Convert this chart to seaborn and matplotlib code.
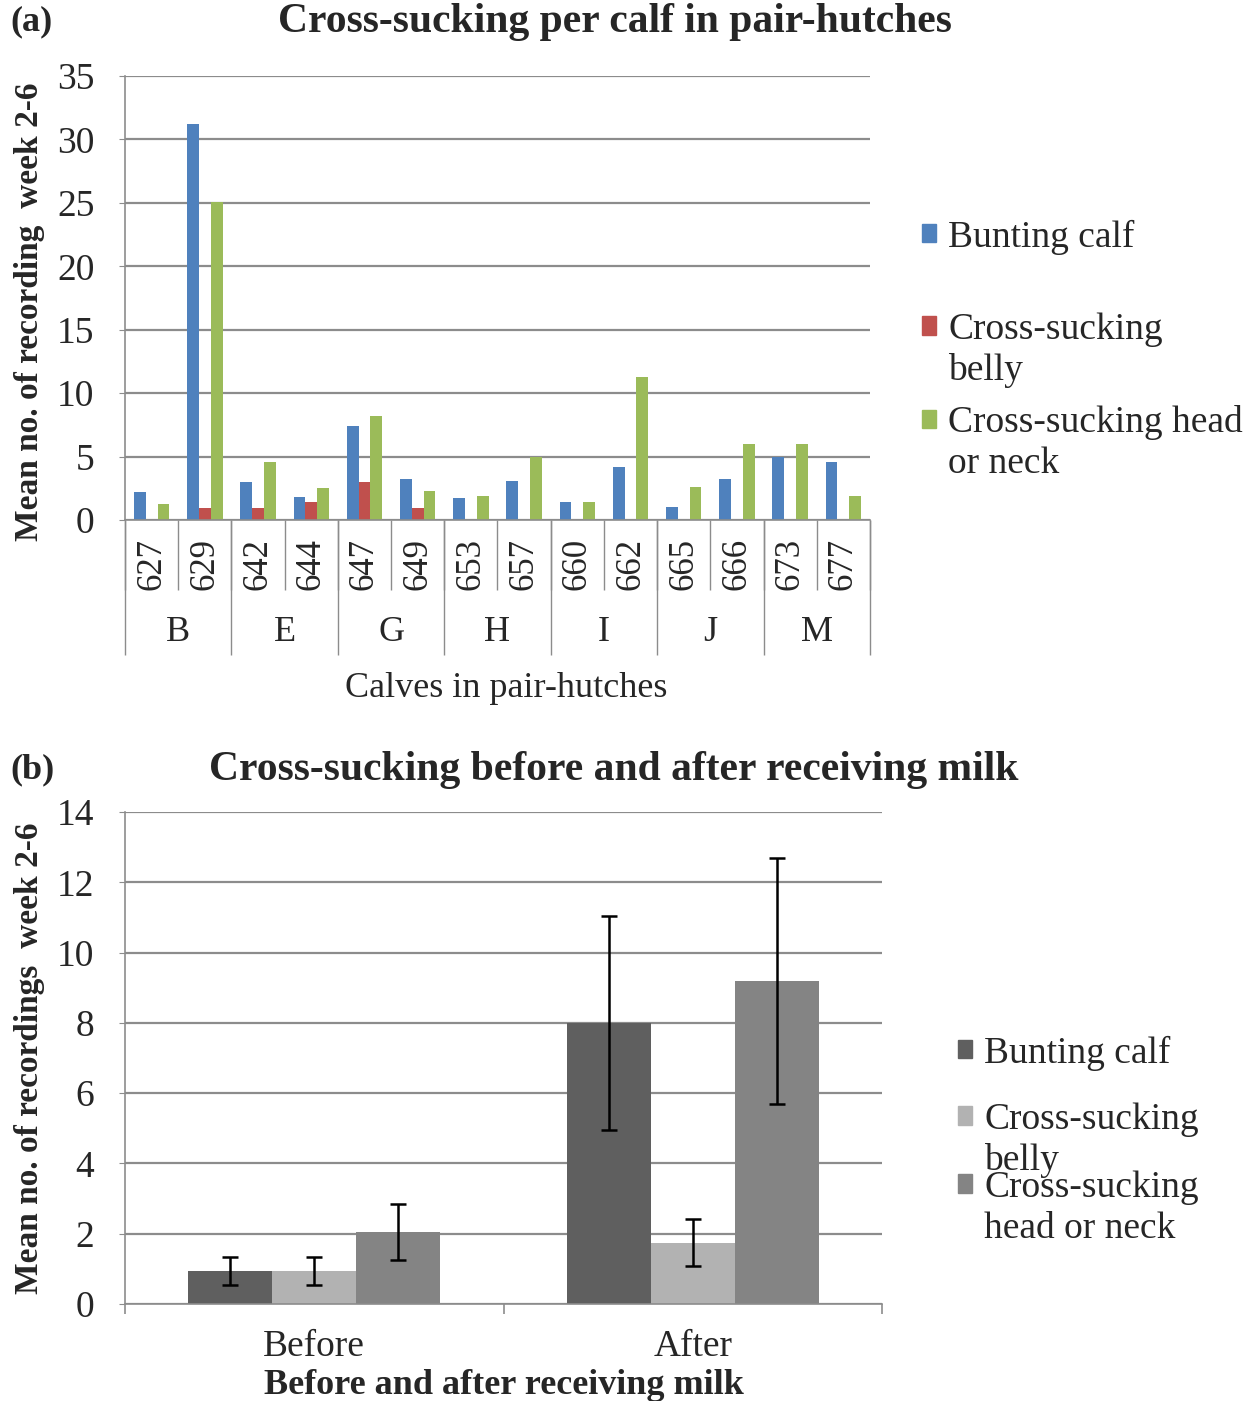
import numpy as np
import pandas as pd
import matplotlib
matplotlib.use("Agg")
import matplotlib.pyplot as plt
import seaborn as sns
from matplotlib.patches import Patch

# ---------------- data: panel (a) ----------------
calves = ["627", "629", "642", "644", "647", "649", "653", "657",
          "660", "662", "665", "666", "673", "677"]
groups = ["B", "E", "G", "H", "I", "J", "M"]
bunting_a = [2.2, 31.2, 3.0, 1.8, 7.4, 3.2, 1.7, 3.1, 1.4, 4.2, 1.0, 3.2, 5.0, 4.6]
belly_a = [0.0, 0.95, 0.95, 1.4, 3.0, 0.95, 0.0, 0.0, 0.0, 0.0, 0.0, 0.0, 0.0, 0.0]
head_a = [1.3, 25.1, 4.6, 2.5, 8.2, 2.3, 1.9, 5.0, 1.4, 11.3, 2.6, 6.0, 6.0, 1.9]
series_a = ["Bunting calf", "Cross-sucking belly", "Cross-sucking head or neck"]
colors_a = ["#4F81BD", "#C0504D", "#9BBB59"]

# ---------------- data: panel (b) ----------------
periods = ["Before", "After"]
bunting_b = [0.95, 8.0]
belly_b = [0.95, 1.75]
head_b = [2.05, 9.2]
err_bunting_b = [0.4, 3.05]
err_belly_b = [0.4, 0.67]
err_head_b = [0.8, 3.5]
colors_b = ["#5F5F5F", "#B2B2B2", "#848484"]

# ---------------- style ----------------
sns.set_style("white")
plt.rcParams['font.family'] = ['Liberation Serif', 'DejaVu Serif']
GRID = "#8C8C8C"
W, H = 1250, 1401
fig = plt.figure(figsize=(12.5, 14.01), dpi=100)


def rect(l, t, r, b):
    return [l / W, 1 - b / H, (r - l) / W, (b - t) / H]


def fy(y):
    return 1 - y / H


# ================= panel (a) =================
ax1 = fig.add_axes(rect(125, 76, 870, 520))
df_a = pd.DataFrame({
    "calf": calves * 3,
    "series": sum([[s] * len(calves) for s in series_a], []),
    "value": bunting_a + belly_a + head_a,
})
sns.barplot(data=df_a, x="calf", y="value", hue="series", order=calves,
            hue_order=series_a, palette=colors_a, width=0.667, saturation=1,
            linewidth=0, errorbar=None, legend=False, ax=ax1)
ax1.set_xlim(-0.5, len(calves) - 0.5)
ax1.set_ylim(0, 35)
ax1.set_yticks(np.arange(0, 36, 5))
ax1.yaxis.grid(True, color=GRID, lw=1.6)
ax1.set_axisbelow(True)
for s in ["top", "right"]:
    ax1.spines[s].set_visible(False)
for s in ["left", "bottom"]:
    ax1.spines[s].set_color(GRID)
    ax1.spines[s].set_linewidth(1.2)
ax1.tick_params(axis="y", left=True, length=4, color=GRID, pad=18, labelsize=27)
ax1.set_xticks(range(len(calves)))
ax1.set_xticklabels(calves, rotation=90)
ax1.tick_params(axis="x", length=0, pad=13, labelsize=25)
ax1.set_ylabel("Mean no. of recording  week 2-6", fontsize=24, fontweight="bold")
ax1.yaxis.set_label_coords(-0.108, 0.47)
ax1.set_xlabel("Calves in pair-hutches", fontsize=26)
ax1.xaxis.set_label_coords(0.512, (520 - 688) / 444)
ax1.xaxis.label.set_va("center")

xt = ax1.get_xaxis_transform()
ax1.vlines(np.arange(-0.5, len(calves), 1), (520 - 590) / 444, 0, transform=xt,
           clip_on=False, colors=GRID, lw=1.0)
ax1.vlines(np.arange(-0.5, len(calves), 2), (520 - 655) / 444, 0, transform=xt,
           clip_on=False, colors=GRID, lw=1.0)
for k, g in enumerate(groups):
    ax1.text(2 * k + 0.5, (520 - 632) / 444, g, transform=xt, ha="center",
             va="center", fontsize=26)

fig.text(615 / W, fy(22), "Cross-sucking per calf in pair-hutches", ha="center",
         va="center", fontsize=30, fontweight="bold")
fig.text(10 / W, fy(22), "(a)", ha="left", va="center", fontsize=26, fontweight="bold")

# legend (a)
leg_kw = dict(frameon=False, fontsize=27, handlelength=0.38, handleheight=0.38,
              handletextpad=0.32, borderpad=0, borderaxespad=0, labelspacing=0.16)
empty = Patch(facecolor="none", edgecolor="none")
entries_a = [
    ([Patch(color=colors_a[0])], ["Bunting calf"], 237),
    ([Patch(color=colors_a[1]), empty], ["Cross-sucking", "belly"], 350),
    ([Patch(color=colors_a[2]), empty], ["Cross-sucking head", "or neck"], 443),
]
for hs, ls, yc in entries_a:
    fig.legend(hs, ls, loc="center left", bbox_to_anchor=(922 / W, fy(yc)), **leg_kw)

# ================= panel (b) =================
ax2 = fig.add_axes(rect(125, 812, 882, 1304))
df_b = pd.DataFrame({
    "period": periods * 3,
    "series": sum([[s] * len(periods) for s in series_a], []),
    "value": bunting_b + belly_b + head_b,
})
sns.barplot(data=df_b, x="period", y="value", hue="series", order=periods,
            hue_order=series_a, palette=colors_b, width=0.667, saturation=1,
            linewidth=0, errorbar=None, legend=False, ax=ax2)
for cont, means, errs in zip(ax2.containers, [bunting_b, belly_b, head_b],
                             [err_bunting_b, err_belly_b, err_head_b]):
    xs = [p.get_x() + p.get_width() / 2 for p in cont]
    ax2.errorbar(xs, means, yerr=errs, fmt="none", ecolor="black",
                 elinewidth=1.8, capsize=6, capthick=1.8, zorder=5)
ax2.set_xlim(-0.5, 1.5)
ax2.set_ylim(0, 14)
ax2.set_yticks(np.arange(0, 15, 2))
ax2.yaxis.grid(True, color=GRID, lw=1.6)
ax2.set_axisbelow(True)
for s in ["top", "right"]:
    ax2.spines[s].set_visible(False)
for s in ["left", "bottom"]:
    ax2.spines[s].set_color(GRID)
    ax2.spines[s].set_linewidth(1.2)
ax2.tick_params(axis="y", left=True, length=4, color=GRID, pad=18, labelsize=27)
ax2.set_xticks([0, 1])
ax2.set_xticklabels(periods)
ax2.set_xticks([-0.5, 0.5, 1.5], minor=True)
ax2.tick_params(axis="x", which="major", length=0, pad=18, labelsize=27)
ax2.tick_params(axis="x", which="minor", bottom=True, length=7, color=GRID, width=1.2)
ax2.set_ylabel("Mean no. of recordings  week 2-6", fontsize=24, fontweight="bold")
ax2.yaxis.set_label_coords(-0.106, 0.5)
ax2.set_xlabel("Before and after receiving milk", fontsize=26, fontweight="bold")
ax2.xaxis.set_label_coords(0.5, (1304 - 1385) / 492)
ax2.xaxis.label.set_va("center")

fig.text(614 / W, fy(770), "Cross-sucking before and after receiving milk",
         ha="center", va="center", fontsize=30, fontweight="bold")
fig.text(10 / W, fy(770), "(b)", ha="left", va="center", fontsize=26, fontweight="bold")

entries_b = [
    ([Patch(color=colors_b[0])], ["Bunting calf"], 1053),
    ([Patch(color=colors_b[1]), empty], ["Cross-sucking", "belly"], 1140),
    ([Patch(color=colors_b[2]), empty], ["Cross-sucking", "head or neck"], 1208),
]
for hs, ls, yc in entries_b:
    fig.legend(hs, ls, loc="center left", bbox_to_anchor=(958 / W, fy(yc)), **leg_kw)

fig.savefig("out.png", dpi=100)
